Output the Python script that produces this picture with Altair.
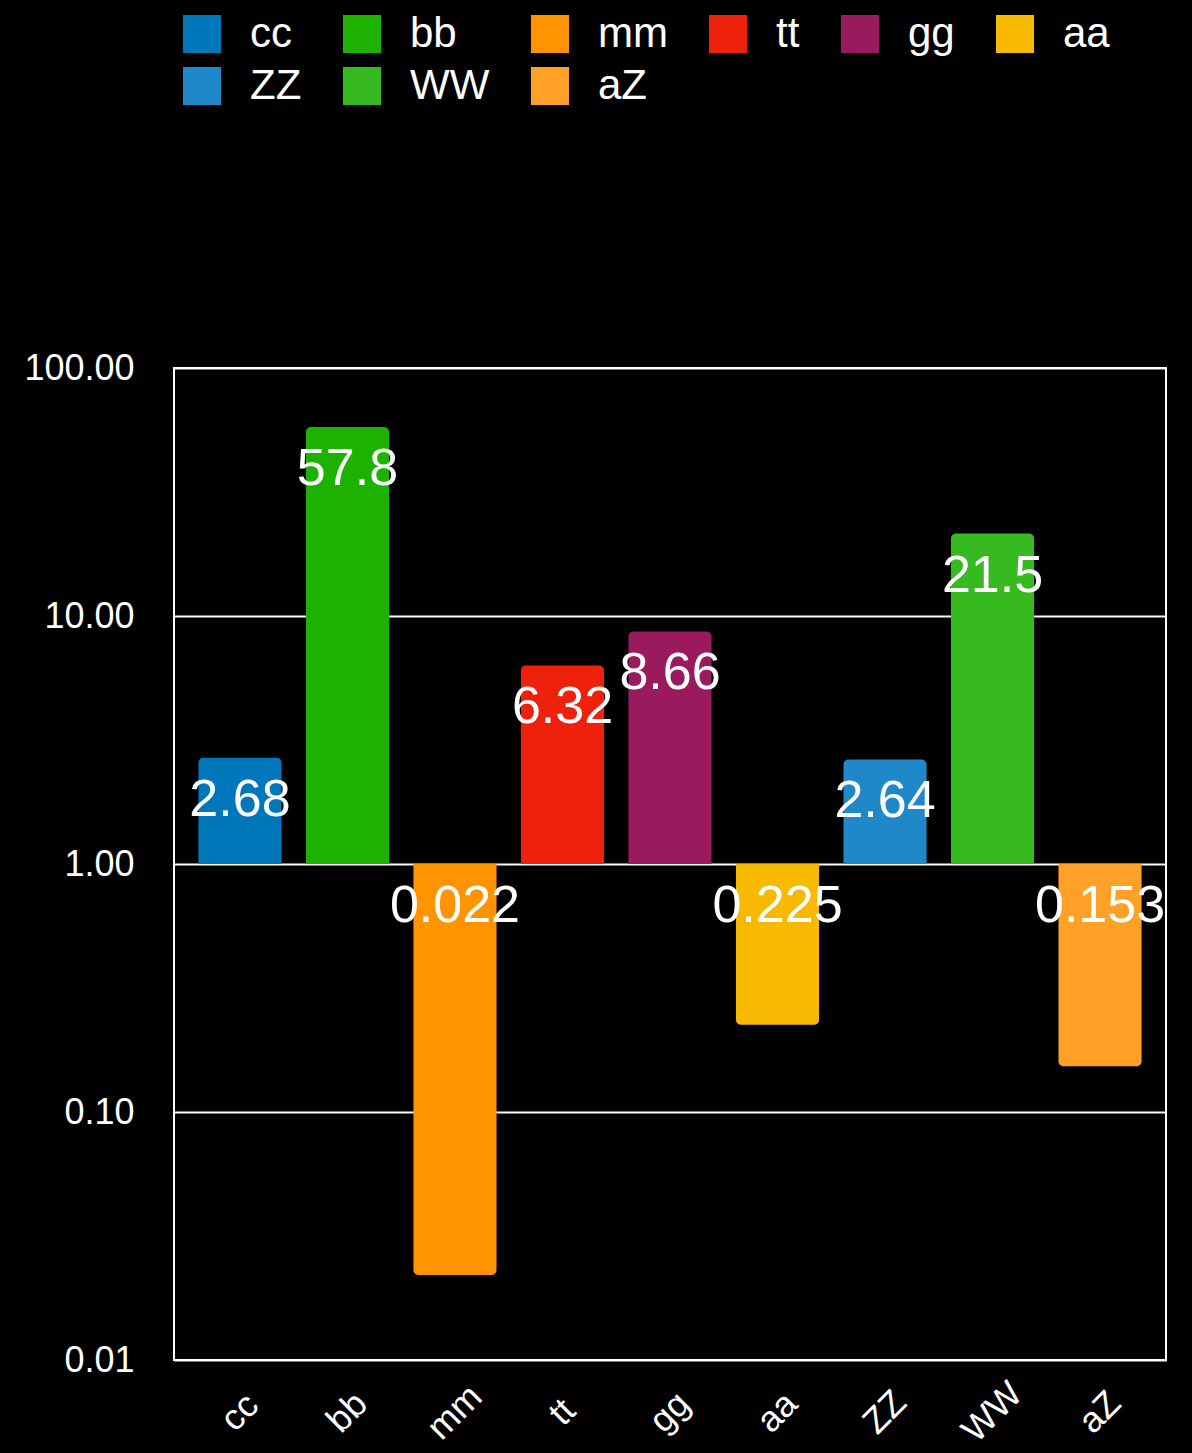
import altair as alt
import pandas as pd

categories = ["cc", "bb", "mm", "tt", "gg", "aa", "ZZ", "WW", "aZ"]
values = [2.68, 57.8, 0.022, 6.32, 8.66, 0.225, 2.64, 21.5, 0.153]
labels = ["2.68", "57.8", "0.022", "6.32", "8.66", "0.225", "2.64", "21.5", "0.153"]
colors = ["#0077BB", "#1DB100", "#FF9300", "#EE220C", "#9A1A5E", "#F8BA00",
          "#1E88C8", "#36BA1F", "#FFA126"]
y_ticks = [0.01, 0.1, 1, 10, 100]

df = pd.DataFrame({"cat": categories, "value": values, "label": labels})

FONT = "Liberation Sans"

x_enc = alt.X(
    "cat:N", sort=categories,
    scale=alt.Scale(paddingInner=0.227, paddingOuter=0.227),
    axis=alt.Axis(title=None, labelAngle=-45, labelAlign="center", labelBaseline="middle",
                  labelPadding=52, ticks=False, domain=False, labelFontSize=36,
                  labelColor="white", labelFont=FONT, grid=False),
)
y_scale = alt.Scale(type="log", domain=[0.01, 100], nice=False)
y_enc = alt.Y(
    "value:Q", scale=y_scale,
    axis=alt.Axis(title=None, values=y_ticks, format=".2f", ticks=False, domain=False,
                  labelPadding=40, labelFontSize=36, labelColor="white", labelFont=FONT,
                  grid=True, gridColor="white", gridWidth=2),
)
color_enc = alt.Color(
    "cat:N", sort=categories,
    scale=alt.Scale(domain=categories, range=colors),
    legend=alt.Legend(title=None, orient="none", legendX=7, legendY=-355, columns=6,
                      direction="horizontal", symbolType="square", symbolSize=1450,
                      symbolStrokeWidth=0, symbolOpacity=1, labelFontSize=42,
                      labelFont=FONT, labelColor="white", labelOffset=27,
                      columnPadding=39, rowPadding=10, padding=0, labelLimit=300),
)

base = alt.Chart(df)

pos = base.transform_filter("datum.value >= 1").mark_bar(
    cornerRadiusTopLeft=5, cornerRadiusTopRight=5
).encode(x=x_enc, y=y_enc, y2=alt.datum(1), color=color_enc)

neg = base.transform_filter("datum.value < 1").mark_bar(
    cornerRadiusBottomLeft=5, cornerRadiusBottomRight=5
).encode(x=x_enc, y=y_enc, y2=alt.datum(1), color=color_enc)

text = base.transform_calculate(ly="max(datum.value, 1)").mark_text(
    font=FONT, fontSize=52, color="white", baseline="middle", align="center", dy=42
).encode(x=alt.X("cat:N", sort=categories), y=alt.Y("ly:Q", scale=y_scale), text="label:N")

chart = alt.layer(pos, neg, text).properties(
    width=992, height=992,
    padding={"left": 174, "top": 368, "right": 26, "bottom": 93},
    autosize="none",
    background="black",
).configure_view(stroke="white", strokeWidth=2)

chart.save("out.html", embed_options={"renderer": "svg", "actions": False})
